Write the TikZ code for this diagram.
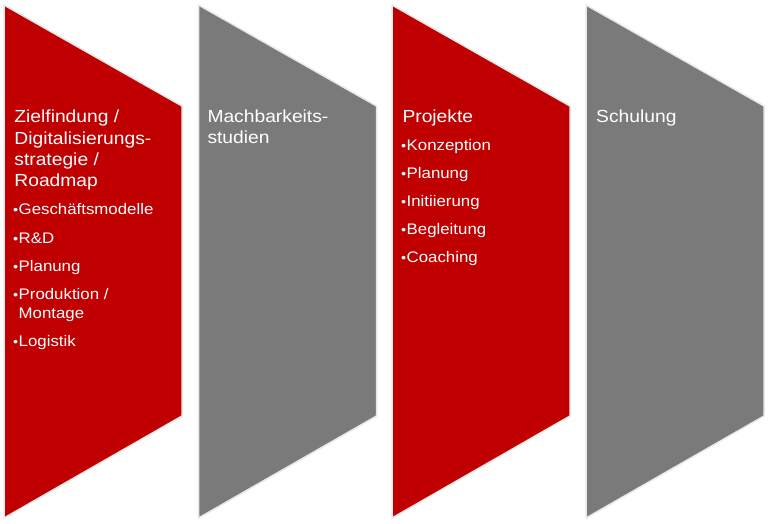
\documentclass[tikz,border=0pt]{standalone}
\usepackage{fontspec}
\usepackage{graphicx}
\setmainfont{Liberation Sans}
\newfontfamily\pptfont[FakeStretch=1.1]{Liberation Sans}
\definecolor{pptred}{HTML}{C00000}
\definecolor{pptgray}{HTML}{7A7A7A}
\definecolor{pptedge}{HTML}{E8E8E8}
\newcommand\pptbul{\makebox[5.5pt][l]{\scalebox{0.86}{•}}}
\begin{document}
\begin{tikzpicture}[x=1pt,y=-1pt,
  chevron/.style={draw=pptedge,line width=1.5pt,line join=miter},
  redchev/.style={chevron,fill=pptred},
  graychev/.style={chevron,fill=pptgray},
  titletext/.style={anchor=base west,inner sep=0pt,text=white,font=\pptfont\fontsize{17.5}{21}\selectfont},
  bullettext/.style={anchor=base west,inner sep=0pt,text=white,font=\pptfont\fontsize{15.3}{18}\selectfont}]
\useasboundingbox[fill=white] (0,0) rectangle (768,523);
% shapes
\path[redchev]  (4,5) -- (182,106) -- (182,416) -- (4,518) -- cycle;
\path[graychev] (198.5,5) -- (376.5,106) -- (376.5,416) -- (198.5,518) -- cycle;
\path[redchev]  (392,5) -- (570,106) -- (570,416) -- (392,518) -- cycle;
\path[graychev] (586,5) -- (764,106) -- (764,416) -- (586,518) -- cycle;
% column 1
\node[titletext] (t1a) at (14.2,122.8) {Zielfindung /};
\node[titletext] (t1b) at (14.2,144.1) {Digitalisierungs-};
\node[titletext] (t1c) at (14.2,165.4) {strategie /};
\node[titletext] (t1d) at (14.2,186.7) {Roadmap};
\node[bullettext] (b1a) at (13.0,214.8) {\pptbul Geschäftsmodelle};
\node[bullettext] (b1b) at (13.0,243.1) {\pptbul R\&D};
\node[bullettext] (b1c) at (13.0,271.5) {\pptbul Planung};
\node[bullettext] (b1d) at (13.0,299.8) {\pptbul Produktion /};
\node[bullettext] (b1e) at (18.5,318.1) {Montage};
\node[bullettext] (b1f) at (13.0,346.5) {\pptbul Logistik};
% column 2
\node[titletext] (t2a) at (207.3,122.4) {Machbarkeits-};
\node[titletext] (t2b) at (207.3,143.3) {studien};
% column 3
\node[titletext] (t3a) at (402.3,122.3) {Projekte};
\node[bullettext] (b3a) at (401.0,150.4) {\pptbul Konzeption};
\node[bullettext] (b3b) at (401.0,178.2) {\pptbul Planung};
\node[bullettext] (b3c) at (401.0,206.2) {\pptbul Initiierung};
\node[bullettext] (b3d) at (401.0,234.3) {\pptbul Begleitung};
\node[bullettext] (b3e) at (401.0,262.2) {\pptbul Coaching};
% column 4
\node[titletext] (t4a) at (596,122.5) {Schulung};
\end{tikzpicture}
\end{document}
